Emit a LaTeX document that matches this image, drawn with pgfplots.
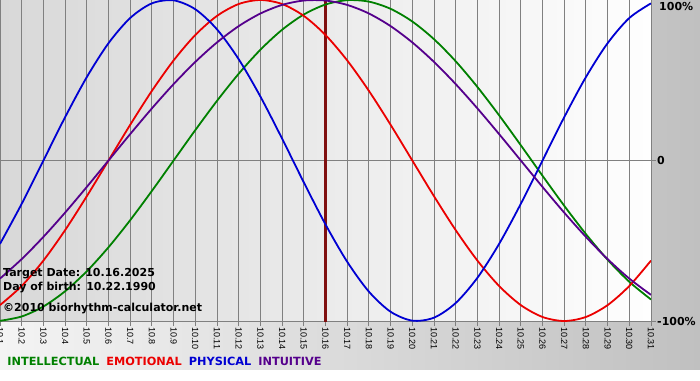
\documentclass[border=0pt]{standalone}
\usepackage{pgfplots}
\pgfplotsset{compat=1.18}
\usepackage{pgfplotstable}
\usepackage{fontspec}
\setmainfont{DejaVu Sans}
\newfontfamily\tickfont{Liberation Sans}
\definecolor{cint}{RGB}{0,128,0}
\definecolor{cemo}{RGB}{235,0,0}
\definecolor{cphy}{RGB}{0,0,210}
\definecolor{cintu}{RGB}{85,0,140}
\definecolor{ctarget}{RGB}{128,16,16}
\definecolor{gridgray}{RGB}{128,128,128}
\definecolor{plotl}{RGB}{216,216,216}
\definecolor{plotr}{RGB}{254,254,254}
\definecolor{bgl}{RGB}{244,244,244}
\definecolor{bgr}{RGB}{192,192,192}
\pgfplotstableread{
day int emo phy intu
1 -0.9989 -0.9010 -0.5196 -0.7357
2 -0.9718 -0.7818 -0.2698 -0.6142
3 -0.9096 -0.6235 0 -0.4759
4 -0.8146 -0.4339 0.2698 -0.3247
5 -0.6901 -0.2225 0.5196 -0.1646
6 -0.5406 0 0.7308 0
7 -0.3717 0.2225 0.8879 0.1646
8 -0.1893 0.4339 0.9791 0.3247
9 0 0.6235 0.9977 0.4759
10 0.1893 0.7818 0.9423 0.6142
11 0.3717 0.9010 0.8170 0.7357
12 0.5406 0.9749 0.6310 0.8372
13 0.6901 1 0.3984 0.9158
14 0.8146 0.9749 0.1362 0.9694
15 0.9096 0.9010 -0.1362 0.9966
16 0.9718 0.7818 -0.3984 0.9966
17 0.9989 0.6235 -0.6310 0.9694
18 0.9898 0.4339 -0.8170 0.9158
19 0.9450 0.2225 -0.9423 0.8372
20 0.8660 0 -0.9977 0.7357
21 0.7557 -0.2225 -0.9791 0.6142
22 0.6182 -0.4339 -0.8879 0.4759
23 0.4582 -0.6235 -0.7308 0.3247
24 0.2817 -0.7818 -0.5196 0.1646
25 0.0951 -0.9010 -0.2698 0
26 -0.0951 -0.9749 0 -0.1646
27 -0.2817 -1 0.2698 -0.3247
28 -0.4582 -0.9749 0.5196 -0.4759
29 -0.6182 -0.9010 0.7308 -0.6142
30 -0.7557 -0.7818 0.8879 -0.7357
31 -0.8660 -0.6235 0.9791 -0.8372
}\bio
\newcommand{\bfont}{\fontsize{11}{13}\selectfont\bfseries}
\newcommand{\lfont}{\fontsize{11.3}{13}\selectfont\bfseries}
\begin{document}
\begin{tikzpicture}[x=1pt,y=1pt]
\useasboundingbox (0,0) rectangle (700,380);
\fill[white] (0,0) rectangle (700,380);
\shade[left color=bgl, right color=bgr] (0,11) rectangle (700,380);
\begin{axis}[
  at={(0pt,59pt)}, anchor=south west,
  scale only axis, width=651pt, height=321pt,
  xmin=1, xmax=31, ymin=-1, ymax=1,
  axis background/.style={left color=plotl, right color=plotr},
  axis line style={draw=none},
  xtick={1,...,31},
  xticklabels={10.1,10.2,10.3,10.4,10.5,10.6,10.7,10.8,10.9,10.10,10.11,10.12,10.13,10.14,10.15,10.16,10.17,10.18,10.19,10.20,10.21,10.22,10.23,10.24,10.25,10.26,10.27,10.28,10.29,10.30,10.31},
  ytick={-1,0,1}, yticklabels={{-100\%},{0},{}},
  xtick pos=bottom, ytick pos=right,
  tick align=outside, major tick length=5pt,
  tick style={draw=gridgray, line width=1pt},
  xmajorgrids, ymajorgrids,
  grid style={draw=gridgray, line width=1pt},
  xticklabel style={rotate=-90, anchor=west, font=\tickfont\fontsize{9}{10}\selectfont, inner sep=1pt},
  yticklabel style={anchor=west, font=\bfont, inner sep=1pt},
  legend style={at={(axis description cs:0.008,-0.128)}, anchor=west, draw=none, fill=none,
    font=\lfont, inner sep=0pt, /tikz/every even column/.append style={column sep=3pt}},
  legend columns=-1,
  legend image code/.code={},
  legend cell align=left,
]
\addplot[ctarget, line width=2.5pt, forget plot] coordinates {(16,-1.05) (16,1.05)};
\addplot[cint, line width=1.8pt, smooth] table[x=day, y=int] {\bio};
\addlegendentry{\textcolor{cint}{INTELLECTUAL}}
\addplot[cemo, line width=1.8pt, smooth] table[x=day, y=emo] {\bio};
\addlegendentry{\textcolor{cemo}{EMOTIONAL}}
\addplot[cphy, line width=1.8pt, smooth] table[x=day, y=phy] {\bio};
\addlegendentry{\textcolor{cphy}{PHYSICAL}}
\addplot[cintu, line width=1.8pt, smooth] table[x=day, y=intu] {\bio};
\addlegendentry{\textcolor{cintu}{INTUITIVE}}
\end{axis}
\node[anchor=base west, font=\bfont, inner sep=0pt] at (3,103.3) {Target Date: 10.16.2025};
\node[anchor=base west, font=\bfont, inner sep=0pt] at (3,89.7) {Day of birth: 10.22.1990};
\node[anchor=base west, font=\bfont, inner sep=0pt] at (3,69) {©2010 biorhythm-calculator.net};
\node[anchor=base west, font=\bfont, inner sep=0pt] at (659,369) {100\%};
\end{tikzpicture}
\end{document}
